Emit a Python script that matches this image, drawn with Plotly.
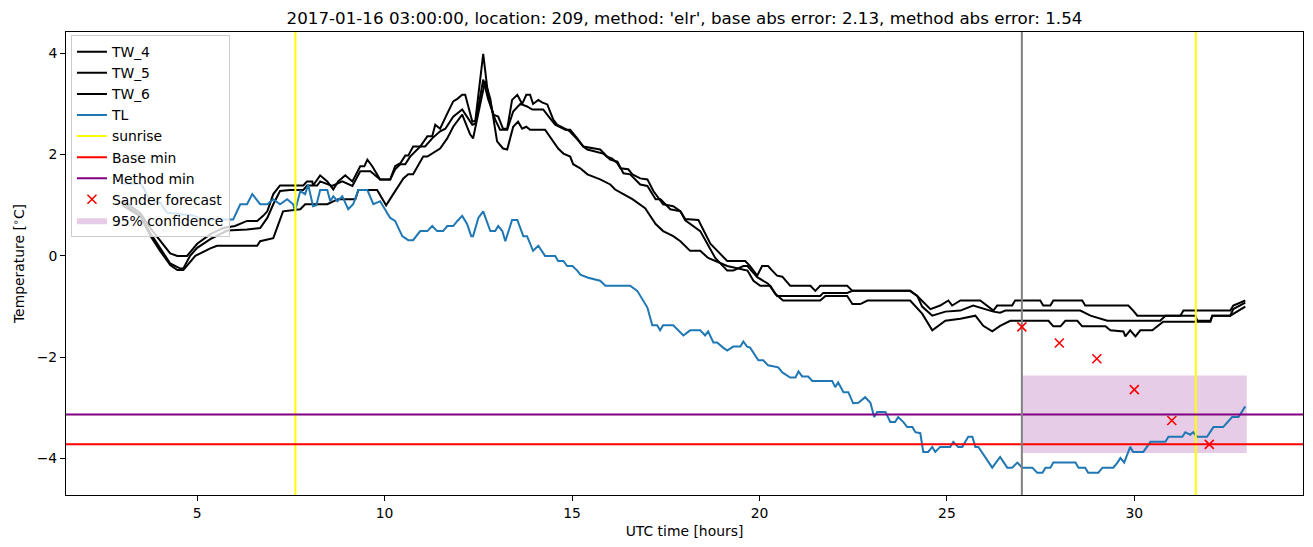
import plotly.graph_objects as go

# ---------------- data (vertices: hours, degC) ----------------
tw_4_hours = [3.00, 3.48, 3.75, 4.01, 4.28, 4.47, 4.73, 5.00, 5.35, 5.69,
              6.01, 6.33, 6.60, 6.76, 6.87, 7.03, 7.21, 7.83, 7.93, 8.07,
              8.09, 8.28, 8.47, 8.63, 8.76, 8.95, 9.14, 9.35, 9.46, 9.54,
              9.67, 9.88, 10.15, 10.28, 10.42, 10.55, 10.63, 10.76, 10.95, 11.14,
              11.27, 11.35, 11.48, 11.67, 11.83, 11.94, 12.07, 12.15, 12.34, 12.42,
              12.63, 12.76, 12.90, 13.03, 13.16, 13.27, 13.40, 13.54, 13.67, 13.78,
              13.88, 13.96, 14.10, 14.20, 14.34, 14.50, 14.60, 14.87, 14.95, 15.14,
              15.30, 15.75, 15.94, 16.07, 16.21, 16.29, 16.50, 16.61, 16.82, 17.01,
              17.17, 17.43, 17.70, 17.89, 18.02, 18.37, 18.69, 19.14, 19.62, 19.75,
              19.94, 20.07, 20.23, 20.34, 20.47, 20.61, 20.82, 21.36, 21.49, 21.62,
              22.34, 22.48, 24.02, 24.21, 24.56, 24.82, 25.04, 25.14, 25.36, 25.89,
              26.08, 26.24, 26.34, 26.74, 26.82, 27.49, 27.57, 27.76, 27.84, 28.61,
              28.69, 29.84, 29.97, 30.08, 31.23, 31.31, 32.56, 32.64, 32.96]
tw_4 = [1.10, 0.85, 0.55, 0.30, 0.05, 0.00, 0.00, 0.24, 0.43, 0.55,
        0.59, 0.69, 0.69, 0.79, 0.88, 1.22, 1.39, 1.39, 1.47, 1.47,
        1.39, 1.59, 1.47, 1.31, 1.47, 1.59, 1.47, 1.77, 1.77, 1.90,
        1.77, 1.51, 1.51, 1.77, 1.83, 1.98, 1.98, 2.16, 2.16, 2.36,
        2.36, 2.59, 2.51, 2.81, 3.05, 3.10, 3.18, 3.18, 2.65, 2.67,
        3.99, 3.18, 2.79, 2.75, 2.51, 2.51, 3.08, 3.18, 3.00, 3.18,
        3.18, 3.00, 3.08, 3.03, 2.99, 2.69, 2.59, 2.49, 2.45, 2.30,
        2.16, 2.10, 1.96, 1.92, 1.83, 1.73, 1.71, 1.61, 1.53, 1.51,
        1.28, 1.02, 0.98, 0.88, 0.73, 0.71, 0.24, -0.10, -0.10, -0.20,
        -0.39, -0.20, -0.20, -0.29, -0.39, -0.41, -0.59, -0.59, -0.69, -0.59,
        -0.59, -0.69, -0.69, -0.79, -1.05, -0.98, -0.88, -0.98, -0.88, -0.88,
        -0.98, -1.08, -0.98, -0.98, -0.88, -0.88, -0.98, -0.98, -0.88, -0.88,
        -0.98, -0.98, -1.08, -1.18, -1.18, -1.08, -1.08, -0.98, -0.88]

tw_5_hours = [3.00, 3.48, 3.75, 4.01, 4.28, 4.55, 4.63, 4.81, 5.00, 5.35,
              5.80, 6.33, 6.68, 6.87, 7.03, 7.21, 7.48, 7.83, 7.93, 8.20,
              8.28, 8.60, 8.87, 9.14, 9.35, 9.62, 9.88, 10.15, 10.28, 10.42,
              10.55, 10.68, 10.95, 11.08, 11.27, 11.48, 11.62, 11.83, 12.07, 12.34,
              12.42, 12.63, 12.76, 12.95, 13.08, 13.27, 13.43, 13.62, 13.80, 13.94,
              14.23, 14.42, 14.55, 14.82, 14.95, 15.14, 15.30, 15.41, 15.83, 16.02,
              16.21, 16.37, 16.55, 16.82, 17.01, 17.23, 17.36, 17.62, 17.89, 18.02,
              18.42, 18.82, 19.14, 19.30, 19.57, 19.68, 19.94, 20.23, 20.47, 21.62,
              21.70, 22.34, 22.48, 24.02, 24.21, 24.34, 24.61, 24.96, 25.36, 25.70,
              26.24, 26.42, 26.56, 28.56, 28.83, 29.28, 30.69, 30.83, 31.63, 31.68,
              32.03, 32.08, 32.56, 32.64, 32.96]
tw_5 = [1.05, 0.80, 0.45, 0.15, -0.15, -0.25, -0.25, 0.00, 0.16, 0.33,
        0.50, 0.52, 0.55, 0.75, 1.02, 1.28, 1.30, 1.30, 1.39, 1.39,
        1.47, 1.38, 1.47, 1.38, 1.67, 1.67, 1.51, 1.51, 1.71, 1.81,
        1.81, 1.96, 2.16, 2.16, 2.32, 2.46, 2.51, 2.75, 2.89, 2.59,
        2.61, 3.48, 3.10, 2.69, 2.49, 2.49, 2.85, 3.00, 2.95, 2.89,
        2.89, 2.71, 2.59, 2.49, 2.49, 2.32, 2.16, 2.10, 2.02, 1.90,
        1.86, 1.63, 1.61, 1.41, 1.38, 1.12, 1.12, 0.92, 0.88, 0.70,
        0.49, -0.04, -0.29, -0.29, -0.20, -0.20, -0.42, -0.55, -0.79, -0.79,
        -0.73, -0.73, -0.69, -0.69, -0.79, -1.00, -1.18, -1.10, -1.08, -0.98,
        -1.10, -1.12, -1.08, -1.08, -1.18, -1.28, -1.28, -1.18, -1.18, -1.28,
        -1.28, -1.18, -1.18, -1.05, -0.92]

tw_6_hours = [3.00, 3.48, 3.75, 4.01, 4.28, 4.47, 4.63, 4.95, 5.35, 5.53,
              6.60, 6.68, 7.03, 7.29, 7.75, 7.88, 8.47, 8.76, 9.22, 9.30,
              9.80, 10.04, 10.23, 10.50, 10.63, 10.76, 11.03, 11.14, 11.48, 11.67,
              11.83, 12.07, 12.28, 12.36, 12.68, 12.82, 13.00, 13.16, 13.27, 13.43,
              13.56, 13.67, 13.78, 13.88, 14.28, 14.63, 14.77, 14.95, 15.03, 15.22,
              15.41, 15.75, 16.02, 16.15, 16.37, 16.61, 16.95, 17.23, 17.43, 17.70,
              17.89, 18.15, 18.42, 18.63, 19.14, 19.68, 19.84, 20.02, 20.29, 20.42,
              20.63, 21.62, 21.76, 22.34, 22.48, 22.69, 22.88, 24.02, 24.34, 24.61,
              24.96, 25.36, 25.76, 25.97, 26.21, 26.42, 26.69, 27.71, 27.84, 28.03,
              28.16, 28.48, 28.61, 29.23, 29.36, 29.71, 29.76, 29.89, 30.03, 30.16,
              30.48, 30.61, 30.77, 32.03, 32.08, 32.56, 32.96]
tw_6 = [1.00, 0.78, 0.40, 0.10, -0.18, -0.28, -0.28, 0.00, 0.15, 0.20,
        0.20, 0.29, 0.35, 0.88, 0.92, 1.02, 1.02, 1.12, 1.12, 1.30,
        1.30, 1.00, 1.22, 1.53, 1.61, 1.61, 1.96, 1.96, 2.12, 2.32,
        2.55, 2.79, 2.40, 2.32, 3.45, 3.10, 2.26, 2.12, 2.10, 2.55,
        2.65, 2.51, 2.55, 2.49, 2.49, 2.12, 2.02, 1.96, 1.81, 1.73,
        1.61, 1.51, 1.41, 1.31, 1.22, 1.12, 0.94, 0.63, 0.49, 0.39,
        0.29, 0.10, 0.10, -0.04, -0.20, -0.29, -0.49, -0.59, -0.59, -0.75,
        -0.88, -0.88, -0.79, -0.79, -0.95, -0.95, -0.88, -0.88, -1.14, -1.47,
        -1.28, -1.24, -1.18, -1.38, -1.49, -1.38, -1.28, -1.28, -1.39, -1.39,
        -1.28, -1.28, -1.39, -1.39, -1.47, -1.49, -1.59, -1.47, -1.59, -1.47,
        -1.47, -1.39, -1.30, -1.30, -1.18, -1.18, -1.00]

tl_hours = [3.00, 3.48, 3.56, 3.75, 4.01, 4.20, 4.89, 5.16, 5.96, 6.04,
            6.15, 6.33, 6.47, 6.68, 6.87, 7.03, 7.21, 7.40, 7.56, 7.61,
            7.75, 7.88, 7.96, 8.09, 8.18, 8.28, 8.47, 8.55, 8.63, 8.74,
            8.87, 9.03, 9.16, 9.30, 9.54, 9.70, 9.88, 10.15, 10.28, 10.47,
            10.63, 10.76, 10.95, 11.14, 11.27, 11.40, 11.56, 11.67, 11.83, 11.94,
            12.07, 12.20, 12.31, 12.36, 12.50, 12.63, 12.82, 12.95, 13.03, 13.14,
            13.22, 13.40, 13.54, 13.70, 13.80, 13.96, 14.10, 14.28, 14.55, 14.63,
            14.77, 14.87, 15.01, 15.14, 15.22, 15.43, 15.75, 15.89, 16.55, 16.74,
            17.01, 17.14, 17.27, 17.35, 17.43, 17.70, 17.83, 17.97, 18.15, 18.42,
            18.55, 18.63, 18.77, 18.87, 19.03, 19.14, 19.30, 19.49, 19.57, 19.67,
            19.75, 19.97, 20.10, 20.23, 20.50, 20.61, 20.82, 20.96, 21.04, 21.14,
            21.30, 21.41, 21.94, 22.02, 22.10, 22.24, 22.37, 22.50, 22.64, 22.82,
            22.96, 23.06, 23.14, 23.36, 23.49, 23.62, 23.70, 23.84, 23.94, 24.08,
            24.16, 24.29, 24.37, 24.50, 24.61, 24.69, 24.82, 25.09, 25.17, 25.30,
            25.41, 25.57, 25.68, 25.76, 25.84, 26.21, 26.42, 26.61, 26.74, 26.88,
            27.01, 27.28, 27.41, 27.55, 27.63, 27.76, 27.84, 28.43, 28.51, 28.69,
            28.77, 29.04, 29.15, 29.44, 29.55, 29.63, 29.73, 29.89, 29.97, 30.24,
            30.43, 30.83, 30.91, 31.28, 31.36, 31.49, 31.57, 31.67, 31.94, 32.11,
            32.37, 32.48, 32.61, 32.78, 32.96]
tl_values = [1.43, 1.43, 1.35, 1.08, 1.05, 0.85, 0.80, 0.72, 0.72, 0.84,
             1.02, 1.02, 1.22, 1.02, 1.02, 1.12, 1.02, 1.12, 1.02, 0.88,
             1.28, 1.22, 1.41, 0.98, 1.00, 1.30, 1.30, 1.08, 1.18, 1.08,
             1.18, 0.92, 1.02, 1.30, 1.30, 1.02, 1.08, 0.75, 0.69, 0.39,
             0.31, 0.31, 0.49, 0.49, 0.59, 0.49, 0.49, 0.59, 0.59, 0.69,
             0.79, 0.63, 0.39, 0.39, 0.75, 0.88, 0.49, 0.49, 0.59, 0.49,
             0.29, 0.71, 0.71, 0.39, 0.39, 0.10, 0.20, 0.00, 0.00, -0.10,
             -0.10, -0.20, -0.20, -0.29, -0.37, -0.43, -0.49, -0.59, -0.59, -0.69,
             -1.02, -1.37, -1.37, -1.47, -1.37, -1.37, -1.47, -1.57, -1.47, -1.47,
             -1.57, -1.49, -1.71, -1.71, -1.81, -1.87, -1.79, -1.79, -1.69, -1.79,
             -1.81, -2.06, -2.06, -2.16, -2.20, -2.30, -2.40, -2.40, -2.28, -2.38,
             -2.38, -2.47, -2.47, -2.59, -2.50, -2.69, -2.69, -2.91, -2.90, -2.79,
             -2.90, -3.18, -3.08, -3.08, -3.28, -3.28, -3.18, -3.28, -3.38, -3.38,
             -3.48, -3.50, -3.87, -3.87, -3.77, -3.87, -3.77, -3.77, -3.67, -3.77,
             -3.77, -3.57, -3.57, -3.77, -3.77, -4.18, -3.97, -4.18, -4.18, -4.08,
             -4.18, -4.18, -4.28, -4.28, -4.18, -4.18, -4.08, -4.08, -4.18, -4.18,
             -4.28, -4.28, -4.18, -4.18, -4.08, -3.99, -4.08, -3.77, -3.87, -3.87,
             -3.67, -3.67, -3.57, -3.57, -3.48, -3.53, -3.48, -3.57, -3.57, -3.38,
             -3.38, -3.28, -3.18, -3.18, -2.97]

sunrise_hours = [7.62, 31.64]
base_min = -3.72
method_min = -3.13
forecast_start = 27.0
sander_hours = [27, 28, 29, 30, 31, 32]
sander_values = [-1.40, -1.72, -2.03, -2.64, -3.25, -3.72]
conf_lower = -3.89
conf_upper = -2.36
conf_end = 33.0

x_ticks = [5, 10, 15, 20, 25, 30]
y_ticks = [-4, -2, 0, 2, 4]
X_RANGE = [1.5, 34.5]
Y_RANGE = [-4.72, 4.42]

title = ("2017-01-16 03:00:00, location: 209, method: 'elr', "
         "base abs error: 2.13, method abs error: 1.54")

# ---------------- figure ----------------
fig = go.Figure()

# confidence band (drawn first, below everything)
fig.add_trace(go.Scatter(
    x=[forecast_start, conf_end, conf_end, forecast_start, forecast_start],
    y=[conf_lower, conf_lower, conf_upper, conf_upper, conf_lower],
    mode="lines", fill="toself", fillcolor="rgba(128,0,128,0.2)",
    line=dict(width=0, color="rgba(128,0,128,0)"),
    name="95% confidence", legendrank=9, hoverinfo="skip"))

for name, xs, vals, rank in (("TW_4", tw_4_hours, tw_4, 1),
                             ("TW_5", tw_5_hours, tw_5, 2),
                             ("TW_6", tw_6_hours, tw_6, 3)):
    fig.add_trace(go.Scatter(x=xs, y=vals, mode="lines", name=name,
                             line=dict(color="black", width=2), legendrank=rank))

fig.add_trace(go.Scatter(x=tl_hours, y=tl_values, mode="lines", name="TL",
                         line=dict(color="#1f77b4", width=2), legendrank=4))

for i, sr in enumerate(sunrise_hours):
    fig.add_trace(go.Scatter(x=[sr, sr], y=[Y_RANGE[0] - 1, Y_RANGE[1] + 1], mode="lines",
                             name="sunrise", legendgroup="sunrise", showlegend=(i == 0),
                             line=dict(color="yellow", width=2), legendrank=5))

fig.add_trace(go.Scatter(x=[X_RANGE[0] - 1, X_RANGE[1] + 1], y=[base_min, base_min],
                         mode="lines", name="Base min",
                         line=dict(color="red", width=2), legendrank=6))
fig.add_trace(go.Scatter(x=[X_RANGE[0] - 1, X_RANGE[1] + 1], y=[method_min, method_min],
                         mode="lines", name="Method min",
                         line=dict(color="purple", width=2), legendrank=7))

fig.add_trace(go.Scatter(x=[forecast_start, forecast_start], y=[Y_RANGE[0] - 1, Y_RANGE[1] + 1],
                         mode="lines", showlegend=False,
                         line=dict(color="grey", width=2), hoverinfo="skip"))

fig.add_trace(go.Scatter(x=sander_hours, y=sander_values, mode="markers",
                         name="Sander forecast", legendrank=8,
                         marker=dict(symbol="x-thin", size=9, color="red",
                                     line=dict(color="red", width=1.6))))

fig.update_layout(
    width=1313, height=547,
    margin=dict(l=66, r=10, t=32, b=52),
    paper_bgcolor="white", plot_bgcolor="white",
    font=dict(family="DejaVu Sans", size=13.9, color="black"),
    title=dict(text=title, x=0.5, xref="paper", y=1 - 18 / 547, yref="container",
               xanchor="center", yanchor="middle",
               font=dict(family="DejaVu Sans", size=16.7, color="black")),
    legend=dict(x=0.004, y=0.993, xanchor="left", yanchor="top",
                bgcolor="rgba(255,255,255,0.8)", bordercolor="#cccccc", borderwidth=1,
                font=dict(family="DejaVu Sans", size=13.9), tracegroupgap=0,
                itemwidth=30),
    showlegend=True,
)
fig.update_xaxes(range=X_RANGE, tickvals=x_ticks, showgrid=False, zeroline=False,
                 showline=True, mirror=True, linecolor="black", linewidth=1,
                 ticks="outside", ticklen=5, tickwidth=1, tickcolor="black",
                 title=dict(text="UTC time [hours]", standoff=6,
                            font=dict(size=13.9)))
fig.update_yaxes(range=Y_RANGE, tickvals=y_ticks, showgrid=False, zeroline=False,
                 showline=True, mirror=True, linecolor="black", linewidth=1,
                 ticks="outside", ticklen=5, tickwidth=1, tickcolor="black",
                 title=dict(text="Temperature [<sup>∘</sup>C]", standoff=8,
                            font=dict(size=13.9)))

fig.write_html("out.html")
